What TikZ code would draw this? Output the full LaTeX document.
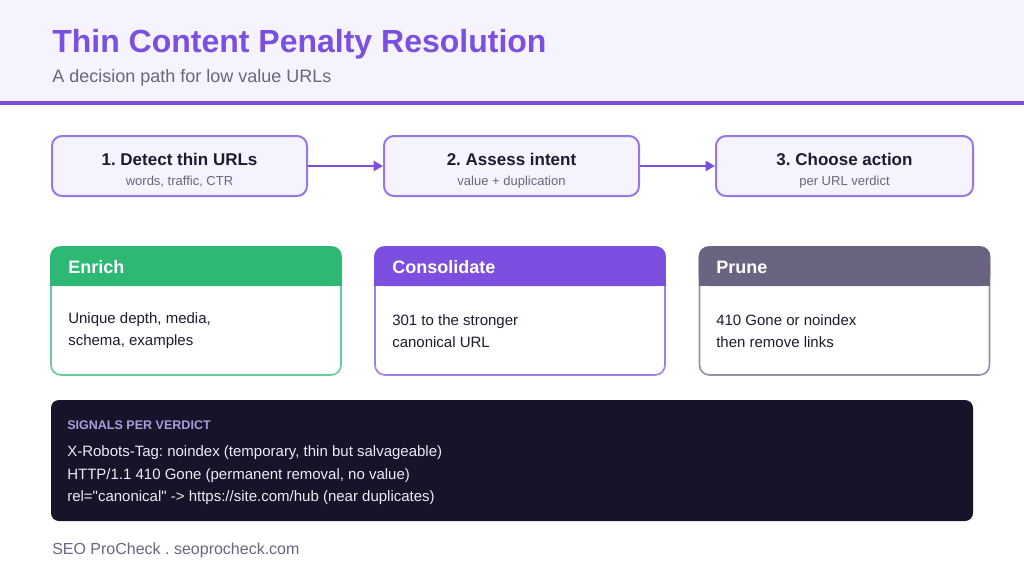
\documentclass[tikz,border=0pt]{standalone}
\usepackage{fontspec}
\setmainfont{Liberation Sans}[Ligatures=TeXOff]
\usetikzlibrary{arrows.meta,calc}
\definecolor{purp}{HTML}{7B4FDF}
\definecolor{purpsoft}{HTML}{9677E8}
\definecolor{lav}{HTML}{F5F3FE}
\definecolor{ink}{HTML}{1E1B2E}
\definecolor{mute}{HTML}{6B6580}
\definecolor{greenv}{HTML}{2DB873}
\definecolor{prunev}{HTML}{6B6480}
\definecolor{night}{HTML}{17142A}
\definecolor{lilac}{HTML}{A99CDB}
\definecolor{paper}{HTML}{ECEAF3}
\frenchspacing

\begin{document}
\begin{tikzpicture}[x=0.75pt,y=-0.75pt,line join=round,
  stepbox/.style={draw=purpsoft,line width=1.5pt,fill=lav,rounded corners=7.5pt,minimum width=191.25pt,minimum height=45pt},
  steptitle/.style={inner sep=0pt,text=ink,font=\fontsize{12.75pt}{15pt}\selectfont\bfseries},
  stepsub/.style={inner sep=0pt,anchor=base,text=mute,font=\fontsize{9.75pt}{12pt}\selectfont},
  flow/.style={draw=purp,line width=1.5pt,-{Triangle[length=7pt,width=7.5pt]}},
  cardbox/.style={draw=#1!72!white,line width=1.2pt,fill=white,rounded corners=7.5pt,minimum width=217.5pt,minimum height=96pt},
  cardhead/.style={inner sep=0pt,anchor=west,text=white,font=\fontsize{13.5pt}{16pt}\selectfont\bfseries},
  cardbody/.style={inner sep=0pt,anchor=west,align=left,text=ink,font=\fontsize{11.25pt}{16.5pt}\selectfont}]
  \useasboundingbox (0,0) rectangle (1024,576);
  \fill[white] (0,0) rectangle (1024,576);
  \fill[lav] (0,0) rectangle (1024,101);
  \fill[purp] (0,101) rectangle (1024,105);
  \node[inner sep=0pt,anchor=base west,text=purp,font=\fontsize{24pt}{28pt}\selectfont\bfseries] (title) at (52,52) {Thin Content Penalty Resolution};
  \node[inner sep=0pt,anchor=base west,text=mute,font=\fontsize{13.5pt}{16pt}\selectfont] (subtitle) at (52,82) {A decision path for low value URLs};

  \node[stepbox] (detect) at (179.5,166) {};
  \node[stepbox] (assess) at (511.5,166) {};
  \node[stepbox,minimum width=192.75pt] (choose) at (844.5,166) {};
  \node[steptitle] (detectT) at ($(detect.center)+(0,-7)$) {1. Detect thin URLs};
  \node[stepsub] (detectS) at ($(detect.center)+(0,19)$) {words, traffic, CTR};
  \node[steptitle] (assessT) at ($(assess.center)+(0,-7)$) {2. Assess intent};
  \node[stepsub] (assessS) at ($(assess.center)+(0,19)$) {value + duplication};
  \node[steptitle] (chooseT) at ($(choose.center)+(0,-7)$) {3. Choose action};
  \node[stepsub] (chooseS) at ($(choose.center)+(0,19)$) {per URL verdict};
  \draw[flow] (detect) -- (assess);
  \draw[flow] (assess) -- (choose);

  \node[cardbox=greenv] (enrich) at (196,311) {};
  \node[cardbox=purp] (consolidate) at (520,311) {};
  \node[cardbox=prunev] (prune) at (844.5,311) {};
  \foreach \card/\col in {enrich/greenv,consolidate/purp,prune/prunev}{
    \fill[\col,rounded corners=7.5pt] (\card.north west) rectangle ([yshift=-30pt]\card.north east);
    \fill[\col] ([yshift=-15pt]\card.north west) rectangle ([yshift=-30pt]\card.north east);
  }
  \node[cardhead] (enrichH) at (68,267) {Enrich};
  \node[cardhead] (consolidateH) at (392,267) {Consolidate};
  \node[cardhead] (pruneH) at (716,267) {Prune};
  \node[cardbody] (enrichB) at (68,331) {Unique depth, media,\\schema, examples};
  \node[cardbody] (consolidateB) at (392,331) {301 to the stronger\\canonical URL};
  \node[cardbody] (pruneB) at (716,331) {410 Gone or noindex\\then remove links};

  \node[fill=night,rounded corners=6pt,minimum width=691.5pt,minimum height=90.75pt] (signals) at (512,460.5) {};
  \node[inner sep=0pt,anchor=west,text=lilac,font=\fontsize{9.4pt}{11pt}\selectfont\bfseries] (signalsT) at (67,425) {SIGNALS PER VERDICT};
  \node[inner sep=0pt,anchor=west,align=left,text=paper,font=\fontsize{11.25pt}{16.9pt}\selectfont] (signalsB) at (67,475.5)
    {X-Robots-Tag: noindex (temporary, thin but salvageable)\\HTTP/1.1 410 Gone (permanent removal, no value)\\rel="canonical" -> https://site.com/hub (near duplicates)};

  \node[inner sep=0pt,anchor=west,text=mute,font=\fontsize{12pt}{14pt}\selectfont] (footer) at (52,550) {SEO ProCheck . seoprocheck.com};
\end{tikzpicture}
\end{document}
